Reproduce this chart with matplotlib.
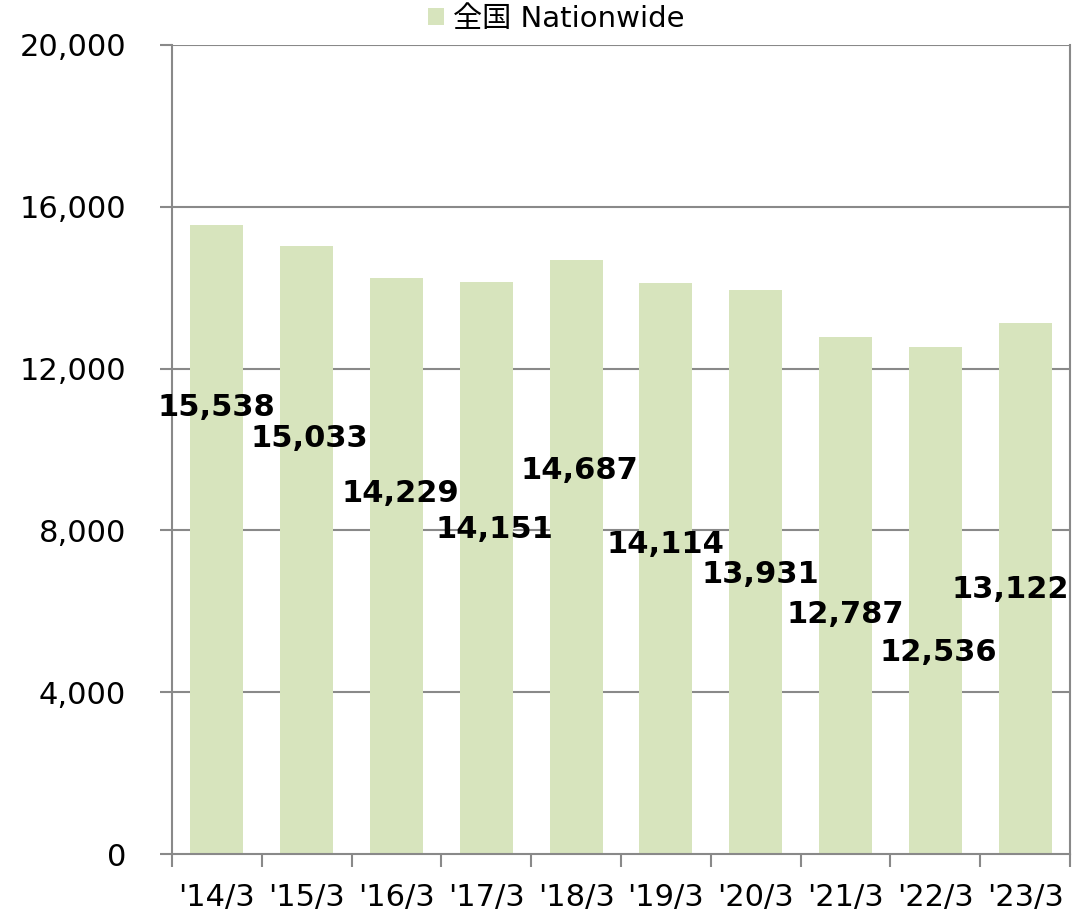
import numpy as np
import matplotlib
matplotlib.use('Agg')
import matplotlib.pyplot as plt
from matplotlib.patches import Patch

plt.rcParams['font.family'] = ['DejaVu Sans', 'Noto Sans CJK JP']

# data
periods = ["'14/3", "'15/3", "'16/3", "'17/3", "'18/3", "'19/3", "'20/3", "'21/3", "'22/3", "'23/3"]
values = [15538, 15033, 14229, 14151, 14687, 14114, 13931, 12787, 12536, 13122]
label_y = [11050, 10280, 8900, 8010, 9490, 7640, 6920, 5930, 4990, 6530]
label_dx = [-0.01, 0.03, 0.04, 0.09, 0.04, 0.0, 0.05, 0.0, 0.03, -0.16]
legend_name = '全国 Nationwide'
yticks = [0, 4000, 8000, 12000, 16000, 20000]

bar_col = '#D7E4BD'
grid_col = '#898989'

fig = plt.figure(figsize=(10.9, 9.17), dpi=100)
ax = fig.add_axes([172/1090, 63/917, 898/1090, 809/917])

x = np.arange(len(periods))
# gridlines behind the bars
ax.hlines(yticks[1:], -0.5, len(periods) - 0.5, color=grid_col, linewidth=1.5, zorder=0.5)
ax.bar(x, values, width=0.59, color=bar_col, zorder=3)

for i, v in enumerate(values):
    ax.text(x[i] + label_dx[i], label_y[i], f'{v:,}', ha='center', va='center',
            fontsize=22, fontweight='bold', color='black', zorder=5)

ax.set_xlim(-0.5, len(periods) - 0.5)
ax.set_ylim(0, 20000)
ax.set_yticks(yticks)
ax.set_yticklabels([f'{t:,}' for t in yticks], fontsize=22)

ax.set_xticks(np.arange(-0.5, len(periods)), labels=[''] * (len(periods) + 1))
ax.set_xticks(x, labels=periods, minor=True)
ax.tick_params(axis='x', which='major', length=9, width=1.5, color=grid_col)
ax.tick_params(axis='x', which='minor', length=0, pad=21, labelsize=22)
ax.tick_params(axis='y', length=9, width=1.5, color=grid_col, pad=24)

for s in ['left', 'right', 'bottom']:
    ax.spines[s].set_color(grid_col)
    ax.spines[s].set_linewidth(1.5)
    ax.spines[s].set_zorder(4)
ax.spines['top'].set_visible(False)

handle = Patch(facecolor=bar_col, edgecolor='none')
fig.legend([handle], [legend_name], loc='center', bbox_to_anchor=(556/1090, 1 - 19/917),
           frameon=False, fontsize=21, handlelength=0.55, handleheight=0.55,
           handletextpad=0.3, borderaxespad=0)

fig.savefig('out.png', dpi=100)
